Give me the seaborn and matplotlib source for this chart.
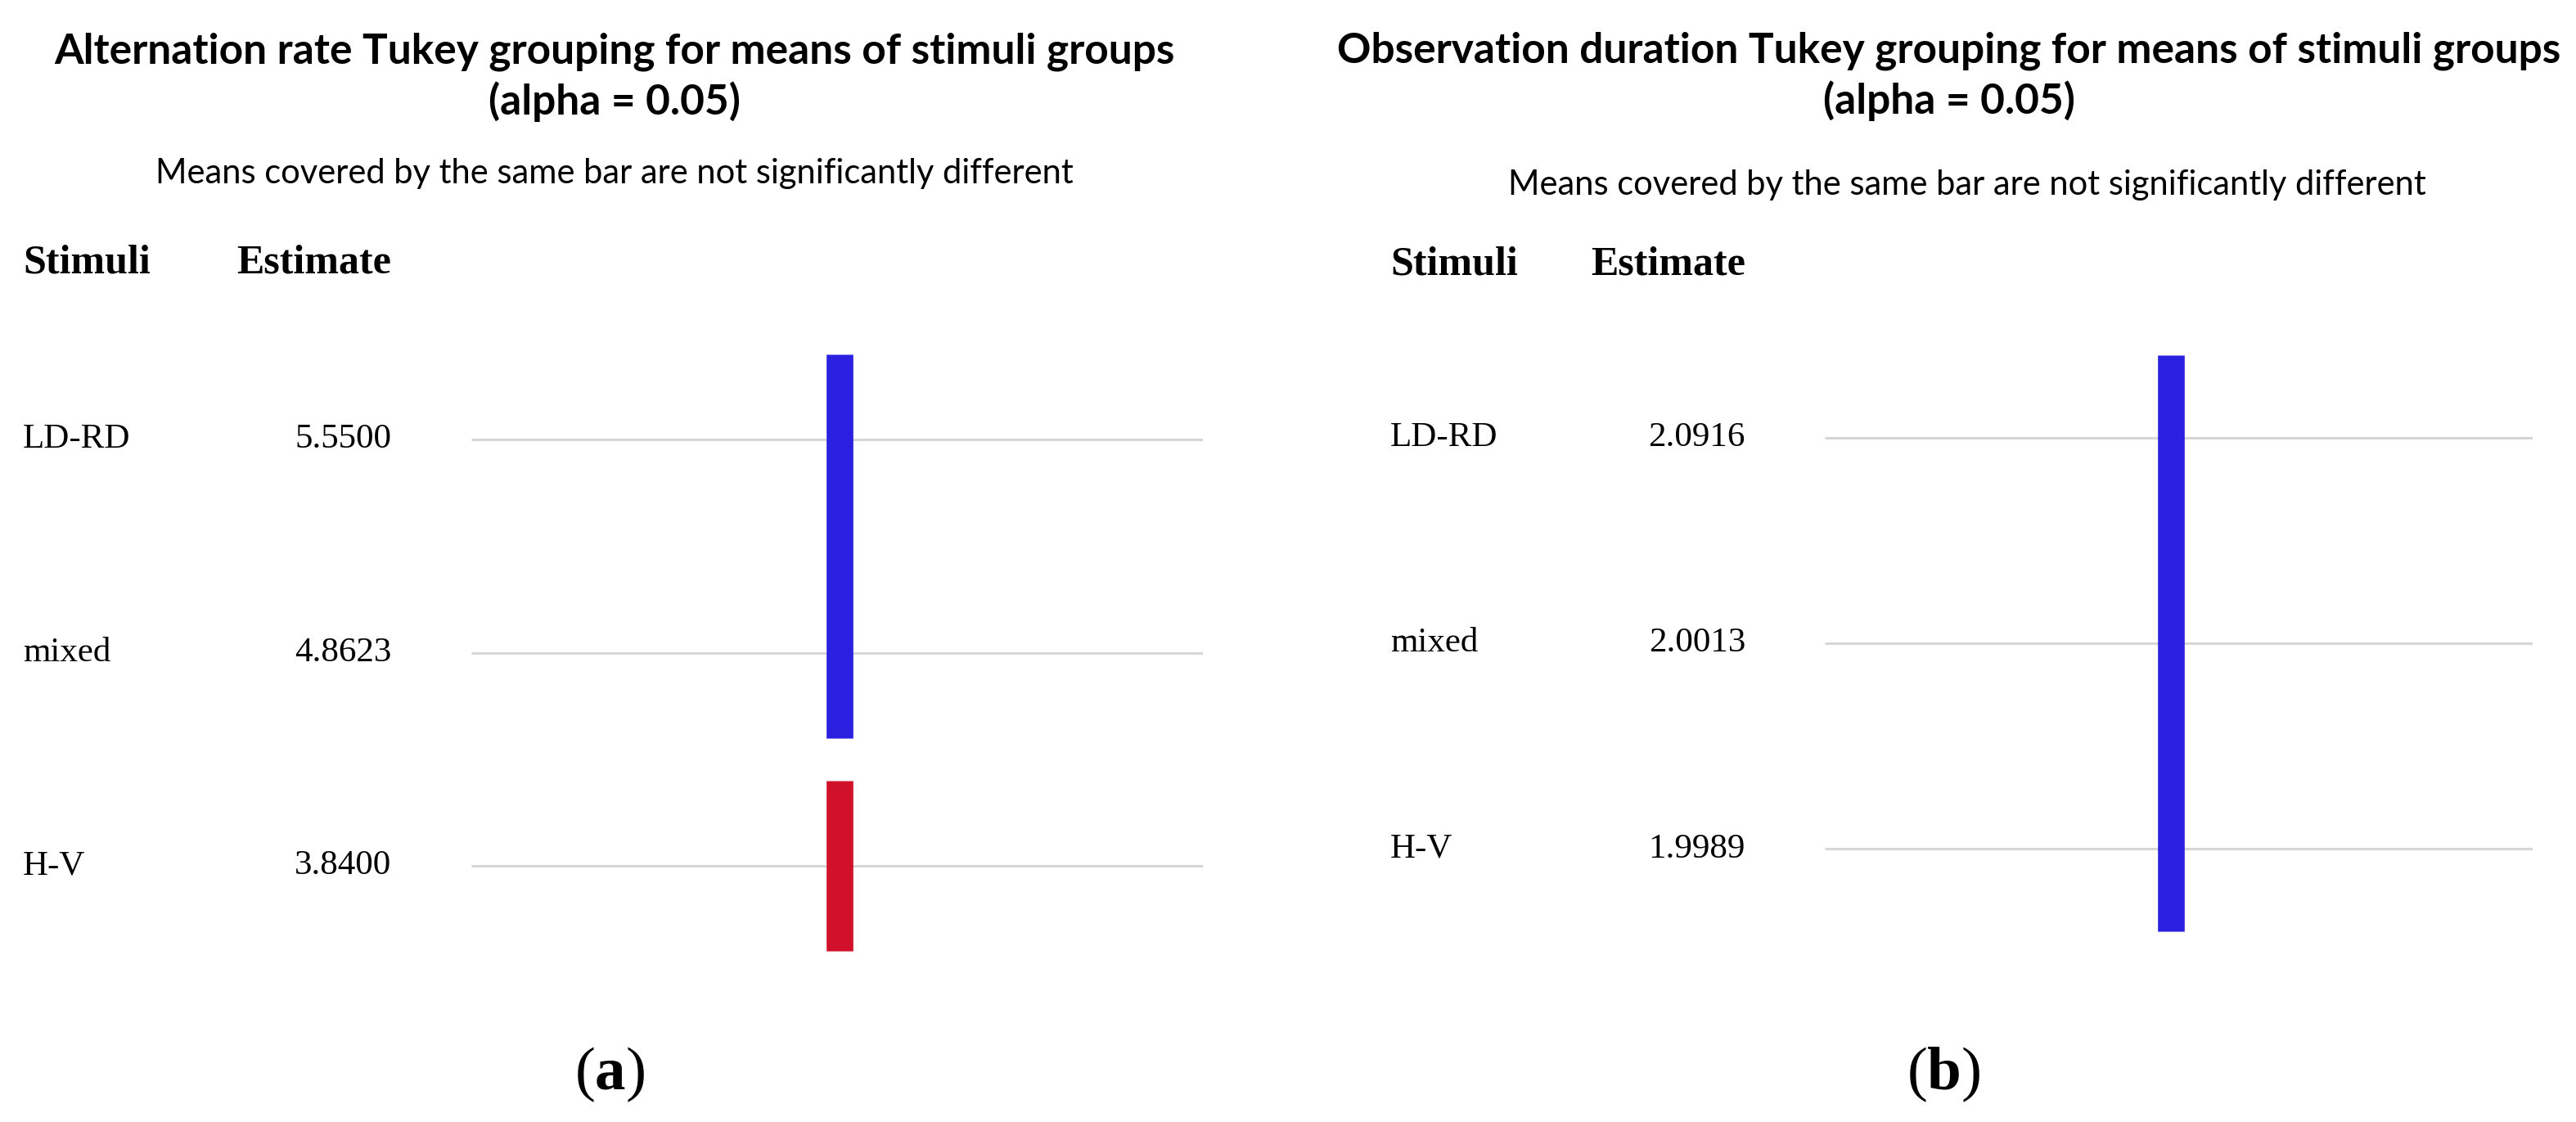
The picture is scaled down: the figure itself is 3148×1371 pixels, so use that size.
import numpy as np
import pandas as pd
import matplotlib
matplotlib.use("Agg")
import matplotlib.pyplot as plt
import matplotlib.transforms as mtransforms
import seaborn as sns

# Tukey grouping results
stimuli = ["LD-RD", "mixed", "H-V"]

alt_estimates = [5.5500, 4.8623, 3.8400]
alt_groups = [["LD-RD", "mixed"], ["H-V"]]

obs_estimates = [2.0916, 2.0013, 1.9989]
obs_groups = [["LD-RD", "mixed", "H-V"]]

group_colors = ["#2b1fe0", "#d01129"]

titles = [
    "Alternation rate Tukey grouping for means of stimuli groups\n(alpha = 0.05)",
    "Observation duration Tukey grouping for means of stimuli groups\n(alpha = 0.05)",
]
subtitle = "Means covered by the same bar are not significantly different"
panel_tags = ["a", "b"]

sns.set_theme(style="white")
plt.rcParams["text.color"] = "black"
plt.rcParams["mathtext.fontset"] = "custom"
plt.rcParams["mathtext.rm"] = "Liberation Serif"
plt.rcParams["mathtext.bf"] = "Liberation Serif:bold"

W, H = 3148, 1371
fig = plt.figure(figsize=(W / 100, H / 100), dpi=100)
fig.patch.set_facecolor("white")

# per-panel layout (pixels): axes box, label columns, title centre
panels = [
    dict(est=alt_estimates, groups=alt_groups, ax=(576, 381, 894, 833),
         bar_x=0.503, lab_x=28, est_x=478, head_y=321,
         title_x=751, title_y=94, sub_x=751, sub_y=212, tag_x=745),
    dict(est=obs_estimates, groups=obs_groups, ax=(2230, 384, 865, 804),
         bar_x=0.489, lab_x=1699, est_x=2133, head_y=323,
         title_x=2382, title_y=93, sub_x=2404, sub_y=226, tag_x=2375),
]

for i, p in enumerate(panels):
    x0, y0, w, h = p["ax"]
    ax = fig.add_axes([x0 / W, 1 - (y0 + h) / H, w / W, h / H])
    df = pd.DataFrame({"stimuli": stimuli, "estimate": p["est"]})
    df["pos"] = np.arange(len(df))

    ax.set_xlim(0, 1)
    ax.set_ylim(len(df) - 1 + 0.6, -0.6)
    ax.hlines(df["pos"], 0, 1, color="#d6d6d6", linewidth=2.2, zorder=1)

    for g, members in enumerate(p["groups"]):
        pos = df.loc[df["stimuli"].isin(members), "pos"]
        ax.vlines(p["bar_x"], pos.min() - 0.4, pos.max() + 0.4,
                  color=group_colors[g], linewidth=23.5, zorder=2)

    ax.set_xticks([])
    ax.set_yticks([])
    sns.despine(ax=ax, left=True, bottom=True)

    tr = mtransforms.blended_transform_factory(fig.transFigure, ax.transData)
    for _, row in df.iterrows():
        ax.text(p["lab_x"] / W, row["pos"], row["stimuli"], transform=tr,
                ha="left", va="center", family="Liberation Serif",
                fontsize=31, color="black")
        ax.text(p["est_x"] / W, row["pos"], f"{row['estimate']:.4f}",
                transform=tr, ha="right", va="center",
                family="Liberation Serif", fontsize=31, color="black")

    fig.text(p["lab_x"] / W, 1 - p["head_y"] / H, "Stimuli", ha="left",
             va="center", family="Liberation Serif", fontweight="bold",
             fontsize=36)
    fig.text(p["est_x"] / W, 1 - p["head_y"] / H, "Estimate", ha="right",
             va="center", family="Liberation Serif", fontweight="bold",
             fontsize=36)

    fig.text(p["title_x"] / W, 1 - p["title_y"] / H, titles[i], ha="center",
             va="center", family="Lato", fontweight="bold", fontsize=37,
             linespacing=1.3)
    fig.text(p["sub_x"] / W, 1 - p["sub_y"] / H, subtitle, ha="center",
             va="center", family="Lato", fontsize=30)

    fig.text(p["tag_x"] / W, 1 - 1313 / H,
             "(" + r"$\mathbf{" + panel_tags[i] + "}$" + ")", ha="center",
             va="center", family="Liberation Serif", fontsize=54)

fig.savefig("out.png", dpi=100, facecolor="white")
